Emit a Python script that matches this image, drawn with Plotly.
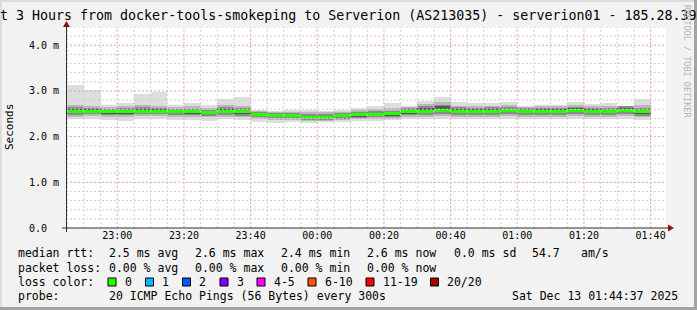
import plotly.graph_objects as go
import pandas as pd

# ---------------- data ----------------
BIN_START = "2025-12-12 22:45:00"
N_BINS = 35
median = [2.56, 2.56, 2.54, 2.54, 2.56, 2.56, 2.54, 2.54, 2.53, 2.56,
          2.55, 2.48, 2.46, 2.46, 2.42, 2.42, 2.46, 2.48, 2.49, 2.51,
          2.54, 2.54, 2.57, 2.56, 2.56, 2.56, 2.58, 2.55, 2.56, 2.56,
          2.57, 2.56, 2.56, 2.58, 2.55]
ping_min = [2.38, 2.38, 2.36, 2.34, 2.38, 2.38, 2.36, 2.36, 2.35, 2.38,
            2.36, 2.32, 2.30, 2.31, 2.30, 2.31, 2.33, 2.34, 2.34, 2.36,
            2.38, 2.38, 2.38, 2.38, 2.39, 2.38, 2.39, 2.38, 2.39, 2.38,
            2.39, 2.38, 2.38, 2.39, 2.36]
ping_max = [3.13, 3.02, 2.69, 2.74, 2.93, 2.97, 2.69, 2.73, 2.69, 2.83,
            2.86, 2.59, 2.56, 2.59, 2.59, 2.56, 2.59, 2.62, 2.67, 2.74,
            2.67, 2.79, 2.86, 2.75, 2.74, 2.74, 2.76, 2.66, 2.70, 2.69,
            2.75, 2.71, 2.73, 2.67, 2.82]
band2_lo = [2.44, 2.45, 2.43, 2.42, 2.45, 2.45, 2.44, 2.43, 2.42, 2.44,
            2.42, 2.38, 2.36, 2.36, 2.34, 2.34, 2.36, 2.38, 2.38, 2.39,
            2.43, 2.44, 2.46, 2.44, 2.44, 2.44, 2.45, 2.43, 2.44, 2.44,
            2.45, 2.44, 2.43, 2.46, 2.42]
band2_hi = [2.70, 2.68, 2.64, 2.66, 2.70, 2.68, 2.64, 2.66, 2.63, 2.70,
            2.68, 2.57, 2.54, 2.55, 2.54, 2.53, 2.55, 2.58, 2.60, 2.63,
            2.64, 2.71, 2.75, 2.68, 2.67, 2.68, 2.69, 2.65, 2.66, 2.66,
            2.69, 2.67, 2.67, 2.68, 2.69]
band3_lo = [2.48, 2.49, 2.47, 2.47, 2.49, 2.49, 2.48, 2.47, 2.46, 2.48,
            2.46, 2.42, 2.40, 2.40, 2.36, 2.36, 2.39, 2.41, 2.42, 2.42,
            2.47, 2.48, 2.50, 2.48, 2.48, 2.48, 2.49, 2.47, 2.48, 2.48,
            2.49, 2.48, 2.47, 2.50, 2.46]
band3_hi = [2.64, 2.63, 2.60, 2.62, 2.64, 2.63, 2.60, 2.61, 2.59, 2.64,
            2.62, 2.54, 2.52, 2.52, 2.50, 2.49, 2.52, 2.54, 2.56, 2.57,
            2.62, 2.66, 2.70, 2.64, 2.63, 2.64, 2.65, 2.62, 2.63, 2.63,
            2.65, 2.63, 2.63, 2.66, 2.63]
band4_lo = [2.51, 2.53, 2.50, 2.50, 2.53, 2.52, 2.51, 2.50, 2.50, 2.52,
            2.49, 2.45, 2.43, 2.43, 2.39, 2.39, 2.42, 2.44, 2.45, 2.45,
            2.50, 2.51, 2.54, 2.52, 2.52, 2.52, 2.53, 2.51, 2.52, 2.52,
            2.53, 2.52, 2.51, 2.54, 2.50]
band4_hi = [2.60, 2.60, 2.57, 2.58, 2.61, 2.60, 2.57, 2.57, 2.56, 2.60,
            2.58, 2.51, 2.49, 2.49, 2.46, 2.45, 2.49, 2.51, 2.52, 2.53,
            2.59, 2.62, 2.66, 2.60, 2.60, 2.60, 2.61, 2.59, 2.60, 2.60,
            2.62, 2.60, 2.59, 2.63, 2.59]

Y_TICK_VALUES = [0, 1, 2, 3, 4]
Y_TICK_LABELS = ["0.0\u00a0\u00a0", "1.0 m", "2.0 m", "3.0 m", "4.0 m"]
X_TICK_LABELS = ["23:00", "23:20", "23:40", "00:00", "00:20", "00:40", "01:00", "01:20", "01:40"]
X_TICK_TIMES = ["2025-12-12 23:00", "2025-12-12 23:20", "2025-12-12 23:40",
                "2025-12-13 00:00", "2025-12-13 00:20", "2025-12-13 00:40",
                "2025-12-13 01:00", "2025-12-13 01:20", "2025-12-13 01:40"]

TITLE = "Last 3 Hours from docker-tools-smokeping to Serverion (AS213035) - serverion01 - 185.28.39.10"
RTT_ITEMS = ["median rtt:", "2.5 ms avg", "2.6 ms max", "2.4 ms min", "2.6 ms now", "0.0 ms sd", "54.7", "am/s"]
LOSS_ITEMS = ["packet loss:", "0.00 % avg", "0.00 % max", "0.00 % min", "0.00 % now"]
LOSS_COLOR_LABELS = ["0", "1", "2", "3", "4-5", "6-10", "11-19", "20/20"]
LOSS_COLORS = ["#26ff00", "#00b8ff", "#0059ff", "#7e00ff", "#ff00ff", "#ff5500", "#ff0000", "#a10000"]
PROBE_ITEMS = ["probe:", "20 ICMP Echo Pings (56 Bytes) every 300s"]
DATE_TEXT = "Sat Dec 13 01:44:37 2025"
WATERMARK = "RRDTOOL / TOBI OETIKER"

# ---------------- geometry ----------------
W, H = 697, 310
ML, MR, MT, MB = 66, 31, 27, 82
PW = W - ML - MR
PH = H - MT - MB
FONT = "DejaVu Sans Mono"


def px(x):
    return (x - ML) / PW


def py(y):
    return (H - MB - y) / PH


times = pd.date_range(BIN_START, periods=N_BINS, freq="5min")
centers = times + pd.Timedelta(minutes=2.5)
BAR_W = 5 * 60 * 1000

fig = go.Figure()

layers = [
    (ping_min, ping_max, "#dddddd"),
    (band2_lo, band2_hi, "#b8b8b8"),
    (band3_lo, band3_hi, "#8a8a8a"),
    (band4_lo, band4_hi, "#555555"),
]
for lo, hi, col in layers:
    fig.add_trace(go.Bar(
        x=centers, y=[h - l for l, h in zip(lo, hi)], base=lo, width=BAR_W,
        marker=dict(color=col, line=dict(width=0)), hoverinfo="skip", showlegend=False))

MED_H = 0.066
fig.add_trace(go.Bar(
    x=centers, y=[MED_H] * N_BINS, base=[m - MED_H / 2 for m in median], width=BAR_W,
    marker=dict(color=LOSS_COLORS[0], line=dict(width=0)), hoverinfo="skip", showlegend=False))

shapes = []
# grid lines (drawn above the smoke, like rrdtool)
grid_times = pd.date_range("2025-12-12 22:45:00", "2025-12-13 01:40:00", freq="5min")
for t in grid_times:
    major = (t.minute % 20 == 0)
    shapes.append(dict(type="line", xref="x", yref="paper", x0=t, x1=t, y0=0, y1=1,
                       line=dict(color="#eba3a3" if major else "#cfcfcf", width=1,
                                 dash="2px,2px"), layer="above"))
for i in range(1, 23):
    v = i * 0.2
    major = (i % 5 == 0)
    shapes.append(dict(type="line", xref="paper", yref="y", x0=0, x1=1, y0=v, y1=v,
                       line=dict(color="#eba3a3" if major else "#cfcfcf", width=1,
                                 dash="2px,2px"), layer="above"))

AX = "#303030"
ARROW = "#8b1010"
# axes with extensions
shapes.append(dict(type="line", xref="paper", yref="paper", x0=px(62), x1=px(669),
                   y0=py(228), y1=py(228), line=dict(color=AX, width=1), layer="above"))
shapes.append(dict(type="line", xref="paper", yref="paper", x0=px(66.5), x1=px(66.5),
                   y0=py(232), y1=py(25), line=dict(color=AX, width=1), layer="above"))
# arrows
shapes.append(dict(type="path", xref="paper", yref="paper",
                   path=f"M {px(668)} {py(224.5)} L {px(674)} {py(228)} L {px(668)} {py(231.5)} Z",
                   fillcolor=ARROW, line=dict(width=0), layer="above"))
shapes.append(dict(type="path", xref="paper", yref="paper",
                   path=f"M {px(63)} {py(27)} L {px(66.5)} {py(21)} L {px(70)} {py(27)} Z",
                   fillcolor=ARROW, line=dict(width=0), layer="above"))

# frame
shapes.append(dict(type="rect", xref="paper", yref="paper", x0=px(0), x1=px(W), y0=py(0), y1=py(2),
                   fillcolor="#dcdcdc", line=dict(width=0), layer="below"))
shapes.append(dict(type="rect", xref="paper", yref="paper", x0=px(0), x1=px(2), y0=py(0), y1=py(H),
                   fillcolor="#dcdcdc", line=dict(width=0), layer="below"))
shapes.append(dict(type="rect", xref="paper", yref="paper", x0=px(0), x1=px(W), y0=py(307), y1=py(H),
                   fillcolor="#a3a3a3", line=dict(width=0), layer="below"))
shapes.append(dict(type="rect", xref="paper", yref="paper", x0=px(694), x1=px(W), y0=py(0), y1=py(H),
                   fillcolor="#a3a3a3", line=dict(width=0), layer="below"))

annotations = []


def text(x, y, s, size=11.5, anchor="left", color="black", angle=0):
    annotations.append(dict(x=px(x), y=py(y), xref="paper", yref="paper", text=s,
                            showarrow=False, xanchor=anchor, yanchor="middle",
                            textangle=angle, font=dict(family=FONT, size=size, color=color)))


text(348.5, 15, TITLE, size=13.3, anchor="center")
text(10, 127, "Seconds", size=11, anchor="center", angle=-90)
text(687, 61, WATERMARK, size=8.5, anchor="center", color="#b4b4b4", angle=90)

rtt_x = [16, 107, 193, 279, 365, 452, 530, 579]
for x, s in zip(rtt_x, RTT_ITEMS):
    text(x, 253, s)
loss_x = [16, 107, 193, 279, 365]
for x, s in zip(loss_x, LOSS_ITEMS):
    text(x, 268, s)
text(16, 282, "loss color:")
box_x = [108, 145.5, 182.5, 220, 257, 308, 366, 430.5]
for bx, lab, col in zip(box_x, LOSS_COLOR_LABELS, LOSS_COLORS):
    shapes.append(dict(type="rect", xref="paper", yref="paper", x0=px(bx), x1=px(bx + 8),
                       y0=py(286), y1=py(278), fillcolor=col,
                       line=dict(color="black", width=1), layer="above"))
    text(bx + 14.5, 282, lab)
text(16, 296, PROBE_ITEMS[0])
text(107, 296, PROBE_ITEMS[1])
text(680, 296, DATE_TEXT, anchor="right")

fig.update_layout(
    width=W, height=H,
    margin=dict(l=ML, r=MR, t=MT, b=MB, pad=0),
    paper_bgcolor="#f2f2f2", plot_bgcolor="white",
    barmode="overlay", bargap=0, showlegend=False,
    shapes=shapes, annotations=annotations,
    xaxis=dict(type="date", range=["2025-12-12 22:44:37", "2025-12-13 01:44:37"],
               showgrid=False, zeroline=False, showline=False,
               tickvals=X_TICK_TIMES, ticktext=X_TICK_LABELS, ticks="",
               tickfont=dict(family=FONT, size=10, color="black")),
    yaxis=dict(range=[0, 4.4], showgrid=False, zeroline=False, showline=False,
               tickvals=Y_TICK_VALUES, ticktext=Y_TICK_LABELS, ticks="",
               ticklabelstandoff=6,
               tickfont=dict(family=FONT, size=10, color="black")),
)

fig.write_html("out.html")
